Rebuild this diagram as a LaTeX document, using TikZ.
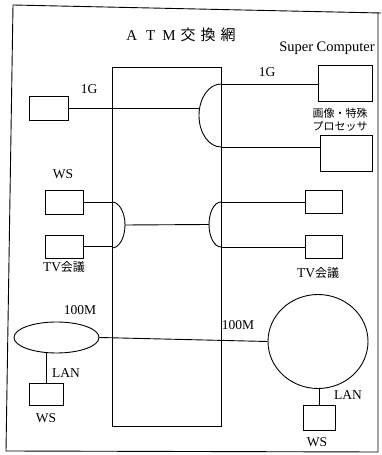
\documentclass[tikz,border=0pt]{standalone}
\usepackage{fontspec}
\setmainfont{Liberation Serif}
\newfontfamily\jp{Noto Sans CJK JP}
\usetikzlibrary{shapes.geometric}
\begin{document}
\begin{tikzpicture}[x=1pt,y=1pt,
  ln/.style={line width=0.9pt},
  dev/.style={draw,line width=0.9pt,inner sep=0pt},
  lbl/.style={inner sep=0pt,font=\fontsize{13.5}{13.5}\selectfont},
  jlbl/.style={inner sep=0pt,font=\fontsize{11}{11}\selectfont\jp}]
\useasboundingbox (0,0) rectangle (381,455);
% outer frame
\draw[ln] (13,450) -- (381,442) (378,442) -- (378,3) -- (6,4) -- (13,450);
% ATM switch
\node[dev,minimum width=109,minimum height=359] (atm) at (166.5,208.5) {};
\node[inner sep=0pt,font=\fontsize{15}{15}\selectfont] (title) at (181,420)
  {A\hspace{9pt}T\hspace{7pt}M\hspace{5pt}{\jp 交\hspace{5pt}換\hspace{5pt}網}};
\node[lbl,font=\fontsize{14.5}{14.5}\selectfont] (sclbl) at (327,407) {Super Computer};
% top
\node[dev,minimum width=39,minimum height=24] (tl) at (48.5,347) {};
\node[lbl] (g1a) at (89,366) {1G};
\coordinate (ra1) at (221,371);
\coordinate (ra2) at (221,308);
\coordinate (ram) at (199.6,347);
\draw[ln] (ra1) arc[start angle=90,end angle=270,x radius=22,y radius=31.5];
\draw[ln] (tl.east) -- (ram);
\node[dev,minimum width=54,minimum height=36] (sc) at (345,372) {};
\node[dev,minimum width=52,minimum height=36] (sp) at (346,302) {};
\draw[ln] (ra1) -- (ra1 -| sc.west);
\draw[ln] (ra2) -- (ra2 -| sp.west);
\node[lbl] (g1b) at (267,383) {1G};
\node[jlbl] (gz1) at (340,342) {画像・特殊};
\node[jlbl] (gz2) at (340,329) {プロセッサ};
% middle
\node[lbl] (wsl) at (63,281) {WS};
\node[dev,minimum width=38,minimum height=24] (b3) at (64,253) {};
\node[dev,minimum width=38,minimum height=23] (b4) at (64,208.5) {};
\node[lbl] (tv1) at (64,188) {TV{\jp\fontsize{12}{12}\selectfont 会議}};
\coordinate (la1) at (112,253);
\coordinate (la2) at (112,207);
\coordinate (lam) at (125,230);
\draw[ln] (la1) arc[start angle=90,end angle=-90,x radius=13,y radius=23];
\draw[ln] (b3.east) -- (la1);
\draw[ln] (b4.east) -- (la1 |- b4.east);
\coordinate (rb1) at (221,253);
\coordinate (rb2) at (221,208);
\coordinate (rbm) at (209,230.5);
\draw[ln] (rb1) arc[start angle=90,end angle=270,x radius=12,y radius=22.5];
\draw[ln] (lam) -- (rbm);
\node[dev,minimum width=37,minimum height=23] (b5) at (323.5,253) {};
\node[dev,minimum width=37,minimum height=23] (b6) at (323.5,208) {};
\draw[ln] (rb1) -- (b5.west);
\draw[ln] (rb2) -- (b6.west);
\node[lbl] (tv2) at (318,182) {TV{\jp\fontsize{12}{12}\selectfont 会議}};
% bottom
\node[dev,ellipse,minimum width=85,minimum height=31] (ell) at (56.5,117.5) {};
\node[dev,ellipse,minimum width=100,minimum height=94] (circ) at (318,113.5) {};
\draw[ln] (ell.east) -- (circ.west);
\node[lbl] (m1) at (80,145) {100M};
\node[lbl] (m2) at (238,130) {100M};
\node[dev,minimum width=34,minimum height=22] (wsbl) at (46,61) {};
\draw[ln] (wsbl.north) -- (wsbl.north |- ell.south);
\node[lbl] (lan1) at (66,82) {LAN};
\node[lbl] (ws1) at (46,37) {WS};
\node[dev,minimum width=32,minimum height=25] (wsbr) at (319,37.5) {};
\draw[ln] (wsbr.north) -- (wsbr.north |- circ.south);
\node[lbl] (lan2) at (348,60) {LAN};
\node[lbl] (ws2) at (317,13) {WS};
\end{tikzpicture}
\end{document}
